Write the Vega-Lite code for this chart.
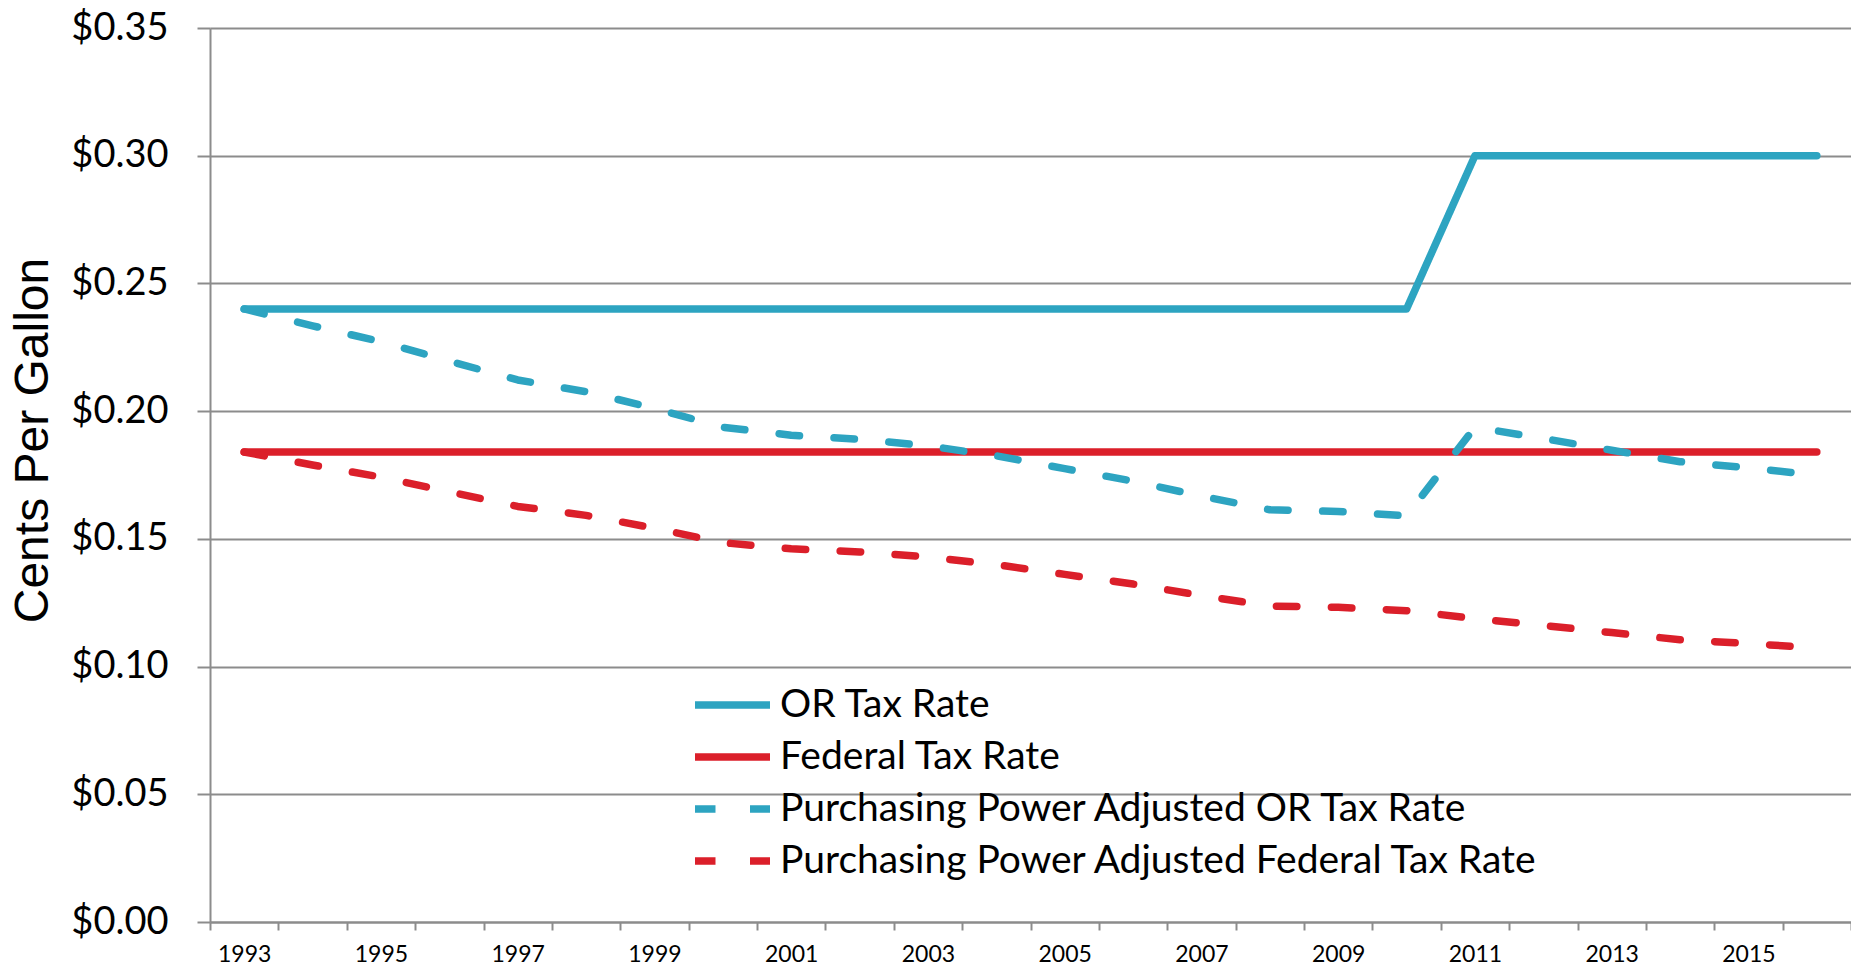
{
  "$schema": "https://vega.github.io/schema/vega-lite/v6.json",
  "autosize": {"type": "none"},
  "padding": {"left": 210, "top": 28, "right": 0, "bottom": 46},
  "width": 1641,
  "height": 894,
  "background": "white",
  "config": {"view": {"stroke": null}},
  "data": {"values": [
    {"year": 1993, "series": "OR Tax Rate", "value": 0.24},
    {"year": 1994, "series": "OR Tax Rate", "value": 0.24},
    {"year": 1995, "series": "OR Tax Rate", "value": 0.24},
    {"year": 1996, "series": "OR Tax Rate", "value": 0.24},
    {"year": 1997, "series": "OR Tax Rate", "value": 0.24},
    {"year": 1998, "series": "OR Tax Rate", "value": 0.24},
    {"year": 1999, "series": "OR Tax Rate", "value": 0.24},
    {"year": 2000, "series": "OR Tax Rate", "value": 0.24},
    {"year": 2001, "series": "OR Tax Rate", "value": 0.24},
    {"year": 2002, "series": "OR Tax Rate", "value": 0.24},
    {"year": 2003, "series": "OR Tax Rate", "value": 0.24},
    {"year": 2004, "series": "OR Tax Rate", "value": 0.24},
    {"year": 2005, "series": "OR Tax Rate", "value": 0.24},
    {"year": 2006, "series": "OR Tax Rate", "value": 0.24},
    {"year": 2007, "series": "OR Tax Rate", "value": 0.24},
    {"year": 2008, "series": "OR Tax Rate", "value": 0.24},
    {"year": 2009, "series": "OR Tax Rate", "value": 0.24},
    {"year": 2010, "series": "OR Tax Rate", "value": 0.24},
    {"year": 2011, "series": "OR Tax Rate", "value": 0.30},
    {"year": 2012, "series": "OR Tax Rate", "value": 0.30},
    {"year": 2013, "series": "OR Tax Rate", "value": 0.30},
    {"year": 2014, "series": "OR Tax Rate", "value": 0.30},
    {"year": 2015, "series": "OR Tax Rate", "value": 0.30},
    {"year": 2016, "series": "OR Tax Rate", "value": 0.30},
    {"year": 1993, "series": "Federal Tax Rate", "value": 0.184},
    {"year": 1994, "series": "Federal Tax Rate", "value": 0.184},
    {"year": 1995, "series": "Federal Tax Rate", "value": 0.184},
    {"year": 1996, "series": "Federal Tax Rate", "value": 0.184},
    {"year": 1997, "series": "Federal Tax Rate", "value": 0.184},
    {"year": 1998, "series": "Federal Tax Rate", "value": 0.184},
    {"year": 1999, "series": "Federal Tax Rate", "value": 0.184},
    {"year": 2000, "series": "Federal Tax Rate", "value": 0.184},
    {"year": 2001, "series": "Federal Tax Rate", "value": 0.184},
    {"year": 2002, "series": "Federal Tax Rate", "value": 0.184},
    {"year": 2003, "series": "Federal Tax Rate", "value": 0.184},
    {"year": 2004, "series": "Federal Tax Rate", "value": 0.184},
    {"year": 2005, "series": "Federal Tax Rate", "value": 0.184},
    {"year": 2006, "series": "Federal Tax Rate", "value": 0.184},
    {"year": 2007, "series": "Federal Tax Rate", "value": 0.184},
    {"year": 2008, "series": "Federal Tax Rate", "value": 0.184},
    {"year": 2009, "series": "Federal Tax Rate", "value": 0.184},
    {"year": 2010, "series": "Federal Tax Rate", "value": 0.184},
    {"year": 2011, "series": "Federal Tax Rate", "value": 0.184},
    {"year": 2012, "series": "Federal Tax Rate", "value": 0.184},
    {"year": 2013, "series": "Federal Tax Rate", "value": 0.184},
    {"year": 2014, "series": "Federal Tax Rate", "value": 0.184},
    {"year": 2015, "series": "Federal Tax Rate", "value": 0.184},
    {"year": 2016, "series": "Federal Tax Rate", "value": 0.184},
    {"year": 1993, "series": "Purchasing Power Adjusted OR Tax Rate", "value": 0.240},
    {"year": 1994, "series": "Purchasing Power Adjusted OR Tax Rate", "value": 0.2334},
    {"year": 1995, "series": "Purchasing Power Adjusted OR Tax Rate", "value": 0.2272},
    {"year": 1996, "series": "Purchasing Power Adjusted OR Tax Rate", "value": 0.2196},
    {"year": 1997, "series": "Purchasing Power Adjusted OR Tax Rate", "value": 0.2122},
    {"year": 1998, "series": "Purchasing Power Adjusted OR Tax Rate", "value": 0.2076},
    {"year": 1999, "series": "Purchasing Power Adjusted OR Tax Rate", "value": 0.2011},
    {"year": 2000, "series": "Purchasing Power Adjusted OR Tax Rate", "value": 0.1937},
    {"year": 2001, "series": "Purchasing Power Adjusted OR Tax Rate", "value": 0.1906},
    {"year": 2002, "series": "Purchasing Power Adjusted OR Tax Rate", "value": 0.1890},
    {"year": 2003, "series": "Purchasing Power Adjusted OR Tax Rate", "value": 0.1864},
    {"year": 2004, "series": "Purchasing Power Adjusted OR Tax Rate", "value": 0.1825},
    {"year": 2005, "series": "Purchasing Power Adjusted OR Tax Rate", "value": 0.1775},
    {"year": 2006, "series": "Purchasing Power Adjusted OR Tax Rate", "value": 0.1726},
    {"year": 2007, "series": "Purchasing Power Adjusted OR Tax Rate", "value": 0.1667},
    {"year": 2008, "series": "Purchasing Power Adjusted OR Tax Rate", "value": 0.1614},
    {"year": 2009, "series": "Purchasing Power Adjusted OR Tax Rate", "value": 0.1607},
    {"year": 2010, "series": "Purchasing Power Adjusted OR Tax Rate", "value": 0.1590},
    {"year": 2011, "series": "Purchasing Power Adjusted OR Tax Rate", "value": 0.1937},
    {"year": 2012, "series": "Purchasing Power Adjusted OR Tax Rate", "value": 0.1893},
    {"year": 2013, "series": "Purchasing Power Adjusted OR Tax Rate", "value": 0.1847},
    {"year": 2014, "series": "Purchasing Power Adjusted OR Tax Rate", "value": 0.1802},
    {"year": 2015, "series": "Purchasing Power Adjusted OR Tax Rate", "value": 0.1778},
    {"year": 2016, "series": "Purchasing Power Adjusted OR Tax Rate", "value": 0.1749},
    {"year": 1993, "series": "Purchasing Power Adjusted Federal Tax Rate", "value": 0.184},
    {"year": 1994, "series": "Purchasing Power Adjusted Federal Tax Rate", "value": 0.1789},
    {"year": 1995, "series": "Purchasing Power Adjusted Federal Tax Rate", "value": 0.1742},
    {"year": 1996, "series": "Purchasing Power Adjusted Federal Tax Rate", "value": 0.1684},
    {"year": 1997, "series": "Purchasing Power Adjusted Federal Tax Rate", "value": 0.1627},
    {"year": 1998, "series": "Purchasing Power Adjusted Federal Tax Rate", "value": 0.1592},
    {"year": 1999, "series": "Purchasing Power Adjusted Federal Tax Rate", "value": 0.1542},
    {"year": 2000, "series": "Purchasing Power Adjusted Federal Tax Rate", "value": 0.1485},
    {"year": 2001, "series": "Purchasing Power Adjusted Federal Tax Rate", "value": 0.1461},
    {"year": 2002, "series": "Purchasing Power Adjusted Federal Tax Rate", "value": 0.1449},
    {"year": 2003, "series": "Purchasing Power Adjusted Federal Tax Rate", "value": 0.1429},
    {"year": 2004, "series": "Purchasing Power Adjusted Federal Tax Rate", "value": 0.1399},
    {"year": 2005, "series": "Purchasing Power Adjusted Federal Tax Rate", "value": 0.1361},
    {"year": 2006, "series": "Purchasing Power Adjusted Federal Tax Rate", "value": 0.1323},
    {"year": 2007, "series": "Purchasing Power Adjusted Federal Tax Rate", "value": 0.1278},
    {"year": 2008, "series": "Purchasing Power Adjusted Federal Tax Rate", "value": 0.1237},
    {"year": 2009, "series": "Purchasing Power Adjusted Federal Tax Rate", "value": 0.1232},
    {"year": 2010, "series": "Purchasing Power Adjusted Federal Tax Rate", "value": 0.1219},
    {"year": 2011, "series": "Purchasing Power Adjusted Federal Tax Rate", "value": 0.1188},
    {"year": 2012, "series": "Purchasing Power Adjusted Federal Tax Rate", "value": 0.1161},
    {"year": 2013, "series": "Purchasing Power Adjusted Federal Tax Rate", "value": 0.1133},
    {"year": 2014, "series": "Purchasing Power Adjusted Federal Tax Rate", "value": 0.1105},
    {"year": 2015, "series": "Purchasing Power Adjusted Federal Tax Rate", "value": 0.1090},
    {"year": 2016, "series": "Purchasing Power Adjusted Federal Tax Rate", "value": 0.1073}
  ]},
  "mark": {"type": "line", "strokeWidth": 7.5, "strokeCap": "round", "strokeJoin": "round"},
  "encoding": {
    "x": {
      "field": "year", "type": "ordinal",
      "scale": {"type": "band", "paddingInner": 0, "paddingOuter": 0},
      "axis": {
        "title": null, "tickBand": "extent", "labelAngle": 0,
        "labelExpr": "datum.value % 2 == 1 ? datum.label : ''",
        "labelFont": "Lato", "labelFontSize": 23, "labelColor": "#000000",
        "labelPadding": 13, "tickSize": 8, "tickWidth": 2, "tickColor": "#8c8c8c",
        "domainColor": "#8c8c8c", "domainWidth": 2, "grid": false
      }
    },
    "y": {
      "field": "value", "type": "quantitative",
      "scale": {"domain": [0, 0.35], "nice": false, "zero": true},
      "axis": {
        "values": [0, 0.05, 0.1, 0.15, 0.2, 0.25, 0.3, 0.35],
        "format": "$.2f",
        "title": "Cents Per Gallon",
        "titleFont": "Liberation Sans", "titleFontSize": 48, "titleFontWeight": "normal",
        "titleColor": "#000000", "titleAngle": 270, "titleX": -177, "titleY": 412,
        "titleAlign": "center", "titleBaseline": "middle",
        "labelFont": "Lato", "labelFontSize": 38, "labelColor": "#000000",
        "labelPadding": 29, "tickSize": 13, "tickWidth": 2, "tickColor": "#8c8c8c",
        "domainColor": "#8c8c8c", "domainWidth": 2,
        "grid": true, "gridColor": "#8c8c8c", "gridWidth": 2
      }
    },
    "color": {
      "field": "series", "type": "nominal",
      "scale": {
        "domain": ["OR Tax Rate", "Federal Tax Rate", "Purchasing Power Adjusted OR Tax Rate", "Purchasing Power Adjusted Federal Tax Rate"],
        "range": ["#2DA4C1", "#DB1F2A", "#2DA4C1", "#DB1F2A"]
      },
      "legend": {
        "title": null, "orient": "none", "legendX": 481, "legendY": 651,
        "symbolType": "stroke", "symbolSize": 5625, "symbolStrokeWidth": 7.5,
        "labelFont": "Lato", "labelFontSize": 39, "labelColor": "#000000", "labelLimit": 0,
        "labelOffset": 6, "rowPadding": 0, "clipHeight": 52, "padding": 0
      }
    },
    "strokeDash": {
      "field": "series", "type": "nominal",
      "scale": {
        "domain": ["OR Tax Rate", "Federal Tax Rate", "Purchasing Power Adjusted OR Tax Rate", "Purchasing Power Adjusted Federal Tax Rate"],
        "range": [[1, 0], [1, 0], [20.5, 34.5], [20.5, 34.5]]
      },
      "legend": null
    }
  }
}
